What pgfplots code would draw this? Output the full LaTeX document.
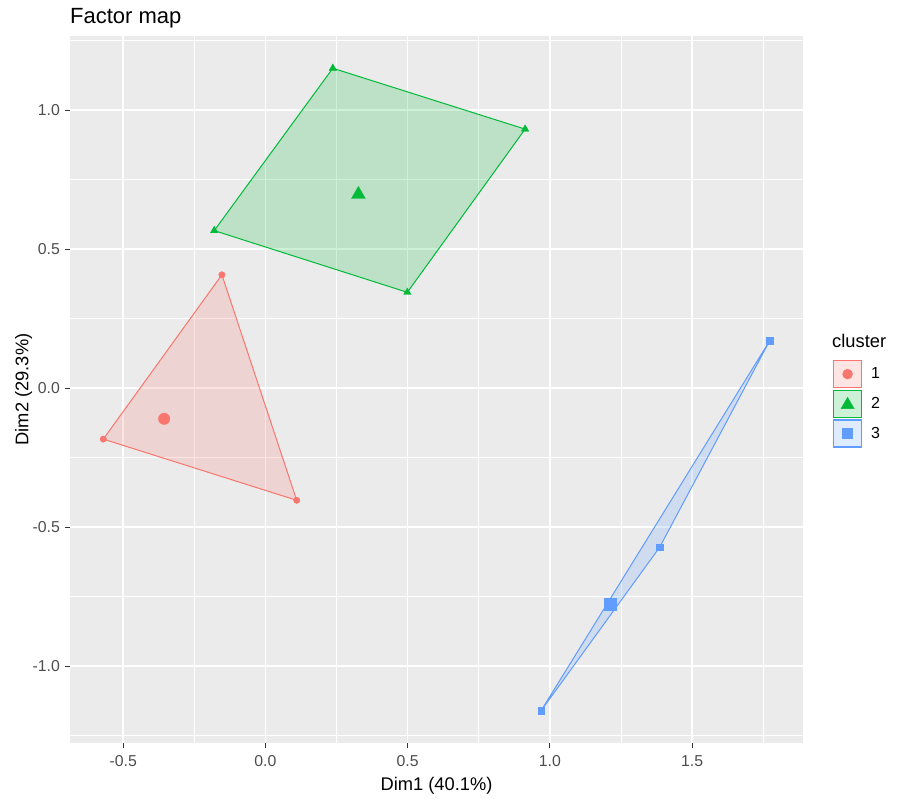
\documentclass[border=0pt]{standalone}
\usepackage{pgfplots}
\pgfplotsset{compat=1.18}
\usepackage{fontspec}
\setmainfont{Liberation Sans}
\definecolor{c1}{HTML}{F8766D}
\definecolor{c2}{HTML}{00BA38}
\definecolor{c3}{HTML}{619CFF}
\definecolor{panel}{HTML}{EBEBEB}
\definecolor{tickc}{HTML}{4D4D4D}
\definecolor{tickl}{HTML}{333333}
\begin{document}
\begin{tikzpicture}
\path[use as bounding box] (0,0) rectangle (897pt,798pt);
\begin{axis}[
  at={(70pt,55pt)}, anchor=south west,
  scale only axis, width=733pt, height=707pt,
  xmin=-0.687, xmax=1.890, ymin=-1.276, ymax=1.267,
  axis background/.style={fill=panel},
  axis line style={draw=none},
  xtick={-0.5,0,0.5,1,1.5}, ytick={-1,-0.5,0,0.5,1},
  xticklabels={-0.5,0.0,0.5,1.0,1.5},
  yticklabels={-1.0,-0.5,0.0,0.5,1.0},
  minor xtick={-0.25,0.25,0.75,1.25,1.75},
  minor ytick={-1.25,-0.75,-0.25,0.25,0.75,1.25},
  grid=both,
  major grid style={white, line width=1.6pt},
  minor grid style={white, line width=0.8pt},
  tick align=outside, tick pos=left,
  major tick length=5pt, minor tick length=0pt,
  every tick/.style={tickl, line width=1pt},
  ticklabel style={font=\fontsize{15.8}{18}\selectfont, text=tickc, inner sep=0pt},
  xticklabel style={yshift=-7pt},
  yticklabel style={xshift=-5pt},
  xlabel={Dim1 (40.1\%)}, ylabel={Dim2 (29.3\%)},
  xlabel style={at={(axis description cs:0.5,-0.0665)}, anchor=base, inner sep=0pt, font=\fontsize{18.3}{22}\selectfont},
  ylabel style={at={(axis description cs:-0.0569,0.5)}, anchor=base, inner sep=0pt, font=\fontsize{18.3}{22}\selectfont},
  legend style={at={(axis description cs:1.0409,0.5417)}, anchor=north west, draw=none, fill=none,
    inner sep=0pt, outer sep=0pt, row sep=1.5pt, font=\fontsize{16}{18}\selectfont,
    nodes={inner sep=0pt, text=black},
    /tikz/every odd column/.append style={column sep=9pt}},
  legend cell align=left,
  clip=false,
]
% cluster 1
\addplot[c1, line width=1pt, fill=c1, fill opacity=0.2, forget plot] coordinates {
  (-0.570,-0.183) (-0.153,0.408) (0.110,-0.403)} -- cycle;
% cluster 2
\addplot[c2, line width=1pt, fill=c2, fill opacity=0.2, forget plot] coordinates {
  (-0.180,0.567) (0.237,1.151) (0.913,0.932) (0.499,0.345)} -- cycle;
% cluster 3
\addplot[c3, line width=1pt, fill=c3, fill opacity=0.2, forget plot] coordinates {
  (0.969,-1.160) (1.386,-0.572) (1.773,0.171)} -- cycle;
% points
\addplot[only marks, mark=*, mark size=3.2pt, c1, mark options={draw=c1, fill=c1}, forget plot] coordinates {
  (-0.570,-0.183) (-0.153,0.408) (0.110,-0.403)};
\addplot[only marks, mark=*, mark size=5.7pt, c1, mark options={draw=c1, fill=c1}, forget plot] coordinates {
  (-0.356,-0.110)};
\addplot[only marks, mark=triangle*, mark size=4.3pt, c2, mark options={draw=c2, fill=c2}, forget plot] coordinates {
  (-0.180,0.567) (0.237,1.151) (0.913,0.932) (0.499,0.345)};
\addplot[only marks, mark=triangle*, mark size=8pt, c2, mark options={draw=c2, fill=c2}, forget plot] coordinates {
  (0.327,0.697)};
\addplot[only marks, mark=square*, mark size=3.2pt, c3, mark options={draw=c3, fill=c3}, forget plot] coordinates {
  (0.969,-1.160) (1.386,-0.572) (1.773,0.171)};
\addplot[only marks, mark=square*, mark size=6pt, c3, mark options={draw=c3, fill=c3}, forget plot] coordinates {
  (1.2125,-0.776)};
% legend
\addlegendimage{legend image code/.code={
  \draw[c1, line width=1.2pt, fill=c1, fill opacity=0.2] (0pt,-13.5pt) rectangle (28pt,13.5pt);
  \draw[c1, mark=*, mark size=5pt, mark options={fill=c1, draw=c1}] plot coordinates {(14pt,0pt)};}}
\addlegendentry{1}
\addlegendimage{legend image code/.code={
  \draw[c2, line width=1.2pt, fill=c2, fill opacity=0.2] (0pt,-13.5pt) rectangle (28pt,13.5pt);
  \draw[c2, mark=triangle*, mark size=7.5pt, mark options={fill=c2, draw=c2}] plot coordinates {(14pt,-1pt)};}}
\addlegendentry{2}
\addlegendimage{legend image code/.code={
  \draw[c3, line width=1.2pt, fill=c3, fill opacity=0.2] (0pt,-13.5pt) rectangle (28pt,13.5pt);
  \draw[c3, mark=square*, mark size=5pt, mark options={fill=c3, draw=c3}] plot coordinates {(14pt,0pt)};}}
\addlegendentry{3}
\node[anchor=base west, inner sep=0pt, font=\fontsize{18.3}{22}\selectfont] at (axis description cs:1.0396,0.5601) {cluster};
\node[anchor=base west, inner sep=0pt, font=\fontsize{22}{26}\selectfont] at (axis description cs:0,1.01697) {Factor map};
\end{axis}
\end{tikzpicture}
\end{document}
